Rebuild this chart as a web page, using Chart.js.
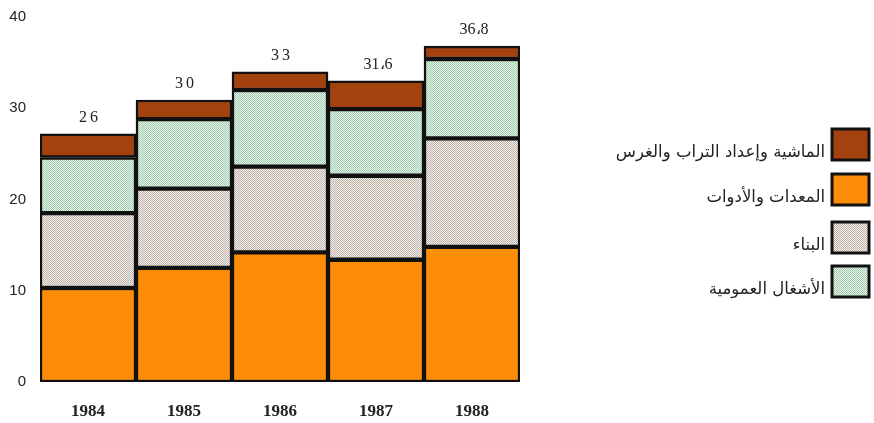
<!DOCTYPE html>
<html>
<head>
<meta charset="utf-8">
<script src="https://cdn.jsdelivr.net/npm/chart.js@4/dist/chart.umd.min.js"></script>
<style>
  html, body { margin: 0; padding: 0; background: #ffffff; }
  #wrap { position: relative; width: 874px; height: 423px; }
</style>
</head>
<body>
<div id="wrap"><canvas id="c" width="874" height="423"></canvas></div>
<script>
// ---- data ----
const categories = ['1984', '1985', '1986', '1987', '1988'];
const equipment   = [10.3, 12.5, 14.2, 13.4, 14.8]; // المعدات والأدوات (orange, bottom)
const building    = [8.2, 8.7, 9.4, 9.2, 11.9];     // البناء (dotted beige)
const publicWorks = [6.1, 7.6, 8.4, 7.3, 8.7];      // الأشغال العمومية (dotted green)
const livestock   = [2.6, 2.1, 2.0, 3.1, 1.4];      // الماشية وإعداد التراب والغرس (brown, top)
const totalLabels = ['26', '30', '33', '31،6', '36،8'];
const yTicks = [0, 10, 20, 30, 40];
const legendNames = ['الماشية وإعداد التراب والغرس', 'المعدات والأدوات', 'البناء', 'الأشغال العمومية'];

function makePattern(light, dark) {
  const p = document.createElement('canvas');
  p.width = 2; p.height = 2;
  const g = p.getContext('2d');
  g.fillStyle = light; g.fillRect(0, 0, 2, 2);
  g.fillStyle = dark; g.fillRect(0, 0, 1, 1); g.fillRect(1, 1, 1, 1);
  return g.createPattern(p, 'repeat');
}
const ctx = document.getElementById('c').getContext('2d');
const beigePattern = makePattern('#f4f0ec', '#bcb0a7');
const greenPattern = makePattern('#e6f8ec', '#a3c8ad');
const orange = '#fd8c06';
const brown = '#a4420f';

const barStyle = { borderColor: '#111', borderWidth: 2.5, borderSkipped: false, categoryPercentage: 1, barPercentage: 1 };

const datasets = [
  Object.assign({ label: legendNames[1], data: equipment, backgroundColor: orange }, barStyle),
  Object.assign({ label: legendNames[2], data: building, backgroundColor: beigePattern }, barStyle),
  Object.assign({ label: legendNames[3], data: publicWorks, backgroundColor: greenPattern }, barStyle),
  Object.assign({ label: legendNames[0], data: livestock, backgroundColor: brown }, barStyle)
];

const totalsPlugin = {
  id: 'totals',
  afterDatasetsDraw(chart) {
    const c = chart.ctx;
    const meta = chart.getDatasetMeta(chart.data.datasets.length - 1);
    c.save();
    c.font = '16px "Liberation Serif", serif';
    c.fillStyle = '#222';
    c.textAlign = 'center';
    c.textBaseline = 'middle';
    c.letterSpacing = '3px';
    meta.data.forEach((el, i) => {
      c.fillText(totalLabels[i], el.x + 2, el.y - 16);
    });
    c.restore();
  }
};

const legendPlugin = {
  id: 'sideLegend',
  afterDraw(chart) {
    const c = chart.ctx;
    const order = [3, 0, 1, 2];
    const boxX = 832, boxW = 37, boxH = 31;
    const tops = [129, 174, 222, 266];
    c.save();
    order.forEach((dsIndex, k) => {
      const ds = chart.data.datasets[dsIndex];
      const y = tops[k];
      c.fillStyle = ds.backgroundColor;
      c.fillRect(boxX, y, boxW, boxH);
      c.lineWidth = 3;
      c.strokeStyle = '#111';
      c.strokeRect(boxX, y, boxW, boxH);
      c.font = '16.5px "DejaVu Sans", sans-serif';
      c.fillStyle = '#222';
      c.textAlign = 'right';
      c.textBaseline = 'middle';
      c.direction = 'rtl';
      c.fillText(ds.label, 825, y + boxH / 2 + 8);
    });
    c.restore();
  }
};

new Chart(ctx, {
  type: 'bar',
  data: { labels: categories, datasets: datasets },
  options: {
    responsive: false,
    animation: false,
    layout: { padding: { left: 0, right: 354, top: 17, bottom: 0 } },
    plugins: { legend: { display: false }, tooltip: { enabled: false } },
    scales: {
      x: {
        stacked: true,
        grid: { display: false, drawTicks: false },
        border: { display: false },
        ticks: { color: '#222', padding: 19, font: { family: '"Liberation Serif", serif', size: 17, weight: 'bold' } },
        afterFit(scale) { scale.height = 41; }
      },
      y: {
        stacked: true,
        min: 0,
        max: 40,
        grid: { display: false, drawTicks: false },
        border: { display: false },
        afterBuildTicks(scale) { scale.ticks = yTicks.map(v => ({ value: v })); },
        ticks: { color: '#222', padding: 14, font: { family: '"Liberation Sans", sans-serif', size: 15 } },
        afterFit(scale) { scale.width = 40; scale.paddingTop = 0; scale.paddingBottom = 0; }
      }
    }
  },
  plugins: [totalsPlugin, legendPlugin]
});
</script>
</body>
</html>
